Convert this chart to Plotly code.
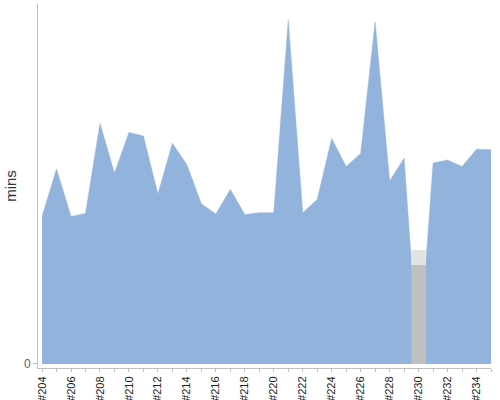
import plotly.graph_objects as go

# build labels and minutes
builds = ['#%d' % n for n in range(204, 236)]
mins = [24.6, 32.5, 24.6, 25.1, 40.1, 31.8, 38.6, 38.0, 28.3, 36.8,
        33.2, 26.7, 25.0, 29.1, 24.9, 25.2, 25.2, 57.3, 25.2, 27.4,
        37.6, 32.9, 35.1, 57.0, 30.5, 34.3, 0.0, 33.5, 34.0, 32.9,
        35.8, 35.7]
tick_text = [b if i % 2 == 0 else '' for i, b in enumerate(builds)]

fig = go.Figure()
fig.add_trace(go.Scatter(x=builds, y=mins, mode='lines', fill='tozeroy',
                         fillcolor='#91b3dc', line=dict(color='#91b3dc', width=0.5),
                         hoverinfo='x+y'))

# grey band around the broken build
gap = builds.index('#230')
fig.add_shape(type='rect', xref='x', yref='y', x0=gap - 0.5, x1=gap + 0.5,
              y0=0, y1=16.5, fillcolor='#c0c0c0', line=dict(width=0), layer='above')
fig.add_shape(type='rect', xref='x', yref='y', x0=gap - 0.5, x1=gap + 0.5,
              y0=16.5, y1=19, fillcolor='#e2e2e2', line=dict(width=0), layer='above')

fig.update_layout(
    width=500, height=400,
    margin=dict(l=38, r=9, t=4, b=32),
    plot_bgcolor='white', paper_bgcolor='white',
    showlegend=False,
    font=dict(family='Liberation Sans, Arial, sans-serif'),
    xaxis=dict(type='category', range=[-0.28, 31], tickvals=builds, ticktext=tick_text,
               tickangle=-90, ticks='outside', ticklen=3, tickcolor='#c0c0c0',
               showline=True, linecolor='#c0c0c0', linewidth=1, showgrid=False,
               zeroline=False, automargin=False,
               tickfont=dict(size=11, color='#222222')),
    yaxis=dict(range=[-0.67, 60], tickvals=[0], ticks='outside', ticklen=4,
               tickcolor='#c0c0c0', showline=True, linecolor='#c0c0c0', linewidth=1,
               showgrid=False, zeroline=False, automargin=False,
               tickfont=dict(size=12, color='#666666'),
               title=dict(text='mins', font=dict(size=15, color='#333333'), standoff=3)),
)

# drop the page's default body margin so the chart sits at the window's corner
fig.write_html("out.html", config={'displayModeBar': False},
               post_script="document.body.style.margin='0';")
